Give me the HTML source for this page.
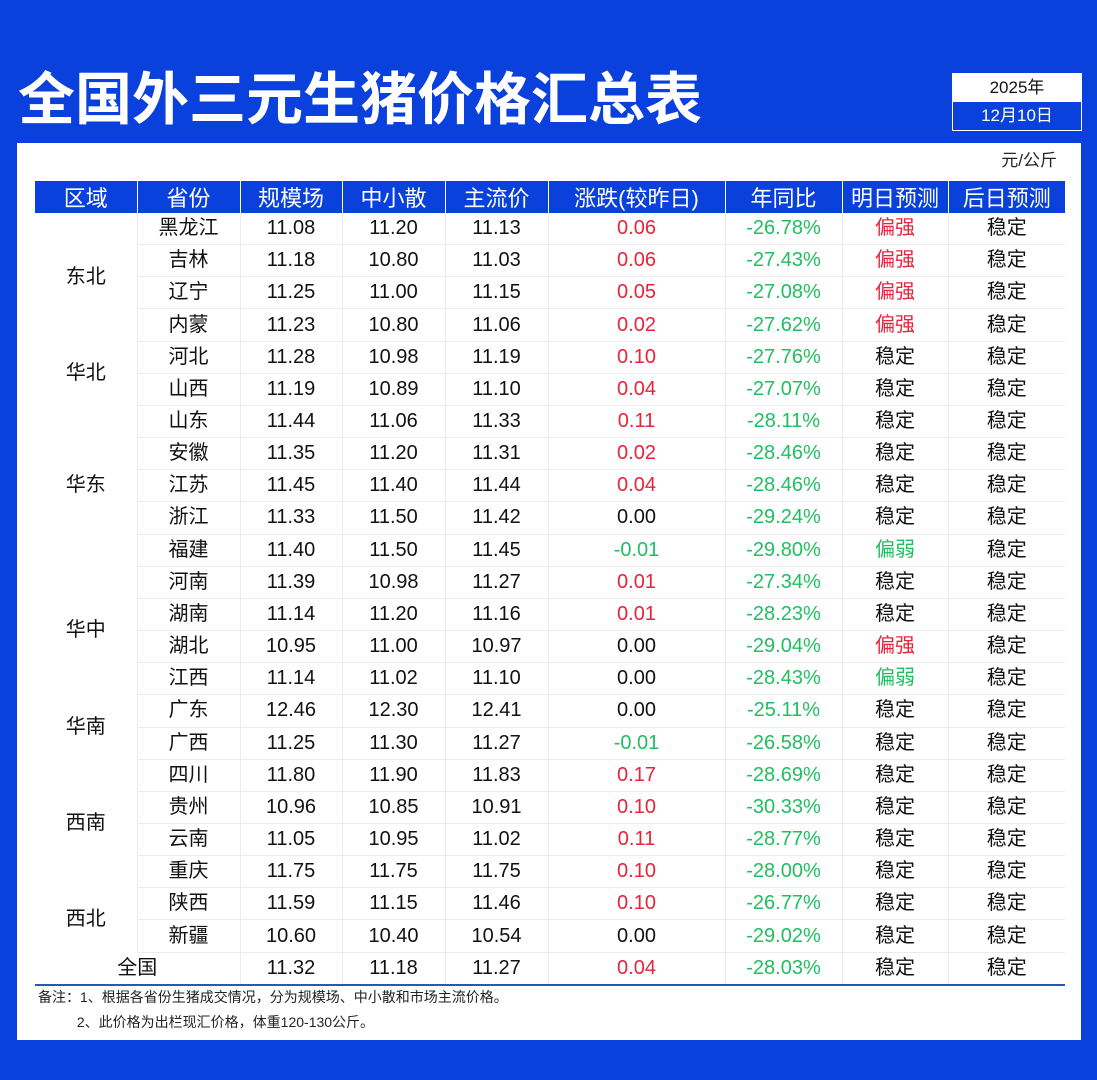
<!DOCTYPE html>
<html><head><meta charset="utf-8">
<style>
body{margin:0;width:1097px;height:1080px;background:#0a40dc;font-family:"Liberation Sans","Noto Sans CJK SC",sans-serif;position:relative;overflow:hidden}
#title{position:absolute;left:18px;top:68px;font-size:57px;font-weight:bold;color:#fff;letter-spacing:0px;line-height:64px}
#datebox{position:absolute;left:952px;top:73px;width:130px;height:58px;border:1px solid #fff;box-sizing:border-box}
#datebox div{height:28px;line-height:28px;text-align:center;font-size:17px}
#panel{position:absolute;left:17px;top:143px;width:1064px;height:897px;background:#fff}
#unit{position:absolute;right:40px;top:146px;font-size:17px;color:#222}
table{position:absolute;left:35px;top:181px;border-collapse:collapse;table-layout:fixed}
th{background:#0a40dc;color:#fff;font-weight:normal;font-size:22px;height:31px;padding:0;border-left:1px solid #fff}
td{height:31.17px;padding:0;text-align:center;font-size:20px;color:#111;border-bottom:1px solid #ececec;border-left:1px solid #ececec;line-height:31px}
td.reg{border-bottom:none;border-left:none}
.r{color:#e8233a}.g{color:#1fbf5f}
tr.last td{border-bottom:2px solid #2a56b8}
#note{position:absolute;left:38px;top:985px;font-size:14px;color:#222;line-height:25px}
</style></head><body>
<div id="title">全国外三元生猪价格汇总表</div>
<div id="datebox"><div style="background:#fff;color:#111">2025年</div><div style="color:#fff">12月10日</div></div>
<div id="panel"></div>
<div id="unit">元/公斤</div>
<table id="tbl">
<colgroup><col style="width:102px"><col style="width:103px"><col style="width:102px"><col style="width:103px"><col style="width:103px"><col style="width:177px"><col style="width:117px"><col style="width:106px"><col style="width:117px"></colgroup>
<thead><tr><th style="border-left:none">区域</th><th>省份</th><th>规模场</th><th>中小散</th><th>主流价</th><th>涨跌(较昨日)</th><th>年同比</th><th>明日预测</th><th>后日预测</th></tr></thead>
<tbody id="tb"></tbody></table>
<div id="note">备注：1、根据各省份生猪成交情况，分为规模场、中小散和市场主流价格。<br>&nbsp;&nbsp;&nbsp;&nbsp;&nbsp;&nbsp;&nbsp;&nbsp;&nbsp;&nbsp;2、此价格为出栏现汇价格，体重120-130公斤。</div>
<script>
const regions=[["东北",4],["华北",2],["华东",5],["华中",4],["华南",2],["西南",4],["西北",2]];
const provinces=["黑龙江","吉林","辽宁","内蒙","河北","山西","山东","安徽","江苏","浙江","福建","河南","湖南","湖北","江西","广东","广西","四川","贵州","云南","重庆","陕西","新疆"];
const scale=["11.08","11.18","11.25","11.23","11.28","11.19","11.44","11.35","11.45","11.33","11.40","11.39","11.14","10.95","11.14","12.46","11.25","11.80","10.96","11.05","11.75","11.59","10.60"];
const small=["11.20","10.80","11.00","10.80","10.98","10.89","11.06","11.20","11.40","11.50","11.50","10.98","11.20","11.00","11.02","12.30","11.30","11.90","10.85","10.95","11.75","11.15","10.40"];
const main=["11.13","11.03","11.15","11.06","11.19","11.10","11.33","11.31","11.44","11.42","11.45","11.27","11.16","10.97","11.10","12.41","11.27","11.83","10.91","11.02","11.75","11.46","10.54"];
const change=["0.06","0.06","0.05","0.02","0.10","0.04","0.11","0.02","0.04","0.00","-0.01","0.01","0.01","0.00","0.00","0.00","-0.01","0.17","0.10","0.11","0.10","0.10","0.00"];
const yoy=["-26.78%","-27.43%","-27.08%","-27.62%","-27.76%","-27.07%","-28.11%","-28.46%","-28.46%","-29.24%","-29.80%","-27.34%","-28.23%","-29.04%","-28.43%","-25.11%","-26.58%","-28.69%","-30.33%","-28.77%","-28.00%","-26.77%","-29.02%"];
const tomorrow=["偏强","偏强","偏强","偏强","稳定","稳定","稳定","稳定","稳定","稳定","偏弱","稳定","稳定","偏强","偏弱","稳定","稳定","稳定","稳定","稳定","稳定","稳定","稳定"];
const after=provinces.map(()=> "稳定");
const national=["全国","11.32","11.18","11.27","0.04","-28.03%","稳定","稳定"];
const tb=document.getElementById('tb');
function cls(v){return v.indexOf('-')===0?'g':(parseFloat(v)>0?'r':'');}
function fcls(v){return v==="偏强"?'r':(v==="偏弱"?'g':'');}
let ri=0,left=0;
provinces.forEach((p,i)=>{
  const tr=document.createElement('tr');
  
  
  let h='';
  if(left===0){const r=regions[ri++];left=r[1];h+=`<td class="reg" rowspan="${r[1]}">${r[0]}</td>`;}
  left--;
  h+=`<td>${p}</td><td>${scale[i]}</td><td>${small[i]}</td><td>${main[i]}</td><td class="${cls(change[i])}">${change[i]}</td><td class="g">${yoy[i]}</td><td class="${fcls(tomorrow[i])}">${tomorrow[i]}</td><td>${after[i]}</td>`;
  tr.innerHTML=h;tb.appendChild(tr);
});
const tr=document.createElement('tr');
tr.className='last';


tr.innerHTML=`<td colspan="2" style="border-left:none">${national[0]}</td><td>${national[1]}</td><td>${national[2]}</td><td>${national[3]}</td><td class="${cls(national[4])}">${national[4]}</td><td class="g">${national[5]}</td><td>${national[6]}</td><td>${national[7]}</td>`;
tb.appendChild(tr);
</script>
</body></html>
